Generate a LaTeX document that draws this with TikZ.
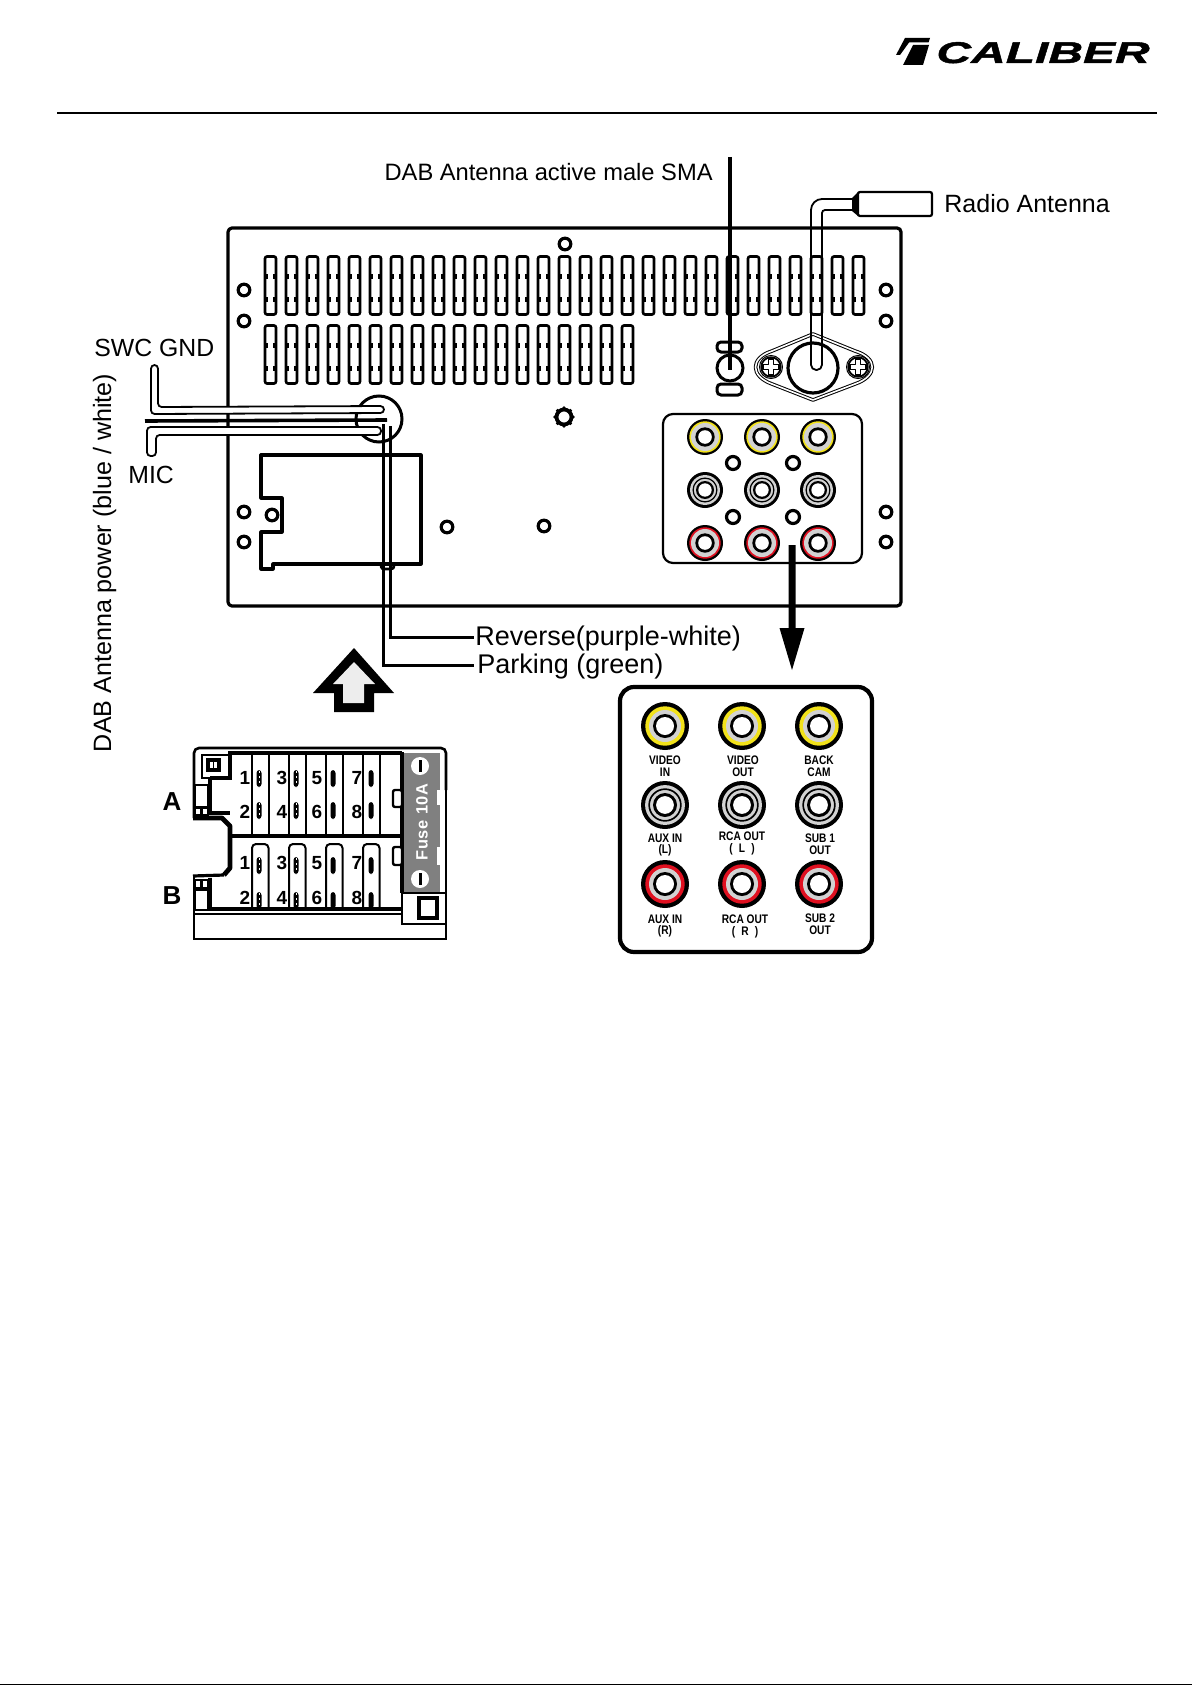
\documentclass[tikz,border=0pt]{standalone}
\usepackage{fontspec}
\setmainfont{Liberation Sans}
\newfontfamily\narrowf[FakeStretch=0.82]{Liberation Sans Bold}
\newfontfamily\logof[FakeStretch=1.6,FakeBold=1.5]{Liberation Sans Bold Italic}
\newfontfamily\fusef[LetterSpace=4]{Liberation Sans Bold}
\newcommand{\pxfont}[1]{\fontsize{#1}{#1}\selectfont}
\definecolor{jackgray}{HTML}{D2D2D2}
\definecolor{jackyellow}{HTML}{F2E21A}
\definecolor{jackred}{HTML}{E01020}
\definecolor{fusegray}{HTML}{808080}
\tikzset{
  px/.style={x=0.5pt,y=-0.5pt},
  panel/.style={draw=black,line width=1.6pt,line join=round},
  hole/.style={draw=black,line width=1.6pt,fill=white},
  vent/.style={draw=black,line width=1.3pt,rounded corners=1pt,fill=white},
  lbl/.style={inner sep=0pt,font=\pxfont{11.85}},
  lead/.style={draw=black,line width=1.5pt},
  tube/.style={draw=black,line width=0.9pt,fill=white,line join=round,rounded corners=1.8pt},
  rcacap/.style={inner sep=0pt,font=\narrowf\pxfont{6.2},align=center},
  digit/.style={inner sep=0pt,font=\bfseries\pxfont{9.5}},
  thickbox/.style={draw=black,line width=2.4pt},
}
\newcommand{\smalljack}[3]{%
  \fill[black] (#1,#2) circle (18);
  \fill[#3] (#1,#2) circle (15.7);
  \fill[jackgray] (#1,#2) circle (14);
  \fill[black] (#1,#2) circle (9.7);
  \fill[white] (#1,#2) circle (6.8);}
\newcommand{\bigjack}[3]{%
  \fill[black] (#1,#2) circle (24);
  \fill[#3] (#1,#2) circle (19.7);
  \fill[jackgray] (#1,#2) circle (16);
  \fill[black] (#1,#2) circle (12);
  \fill[white] (#1,#2) circle (9);}
\newcommand{\grayjack}[3]{%
  \fill[black] (#1,#2) circle (#3);
  \fill[jackgray] (#1,#2) circle (#3*0.83);
  \draw[black,line width=#3*0.035pt] (#1,#2) circle (#3*0.66);
  \fill[jackgray] (#1,#2) circle (#3*0.6);
  \fill[black] (#1,#2) circle (#3*0.5);
  \fill[white] (#1,#2) circle (#3*0.37);}
\newcommand{\ventslot}[2]{%
  \draw[vent] (#1,#2) rectangle ++(11,58);
  \fill[black] (#1+1,#2+17) rectangle ++(2,5);
  \fill[black] (#1+8,#2+17) rectangle ++(2,5);
  \fill[black] (#1+1,#2+40) rectangle ++(2,5);
  \fill[black] (#1+8,#2+40) rectangle ++(2,5);}
\begin{document}
\begin{tikzpicture}[px]
\useasboundingbox (0,0) rectangle (1192,1685);
\fill[white] (0,0) rectangle (1192,1685);
% bottom page edge
\fill[black] (0,1683.5) rectangle (1192,1685);
% logo
\fill[black] (896,55) -- (905,38) -- (930,38) -- (928.5,42.5) -- (909,42.5) -- (900,55) -- cycle;
\fill[black] (913,45) -- (929,45) -- (923,65) -- (903,65) -- cycle;
\node[inner sep=0pt,anchor=base west,font=\logof\pxfont{15}] (logo) at (936,63) {CALIBER};
% header rule
\draw[black,line width=1.1pt] (57,113) -- (1157,113);
% panel
\draw[panel,rounded corners=2pt] (228,228) rectangle (901,606);
% vents
\foreach \i in {0,...,28} {\ventslot{265+21*\i}{256.5}}
\foreach \i in {0,...,17} {\ventslot{265+21*\i}{325.5}}
% holes
\foreach \p in {(244,290),(244,321),(565,244),(886,290),(886,321),(244,512),(244,542),(272,515),(447,527),(544,526),(886,512),(886,542)}
  \draw[hole] \p circle (5.8);
% gear hole
\foreach \a in {0,45,...,315} \fill[black] (564,417) ++(\a:9) circle (1.8);
\draw[black,line width=1.9pt,fill=white] (564,417) circle (7.5);
% cutout
\draw[panel] (261,455) -- (421,455) -- (421,564) -- (273,564) -- (273,569) -- (261,569) -- (261,532) -- (282,532) -- (282,498) -- (261,498) -- cycle;
\draw[black,line width=1.4pt] (381,564) .. controls (381,569) and (383,569) .. (385,569) -- (391,569) .. controls (393,569) and (394,568) .. (394,564);
% cable gland
\draw[black,line width=1.5pt] (379,419) circle (23);
% leader wires
\node[lbl,anchor=base west,font=\pxfont{13.5}] (reverse) at (475,645) {Reverse(purple-white)};
\node[lbl,anchor=base west,font=\pxfont{13.5}] (parking) at (477,673) {Parking (green)};
\coordinate (glandA) at (390,426);
\coordinate (glandB) at (383,424);
\draw[lead] (glandA) -- (390,637) -- (474,637);
\draw[lead] (glandB) -- (383,665) -- (474,665);
% SWC tube
\draw[tube] (151,365) -- (151,414) -- (384,413) -- (384,406) -- (158,407) -- (158,365) -- cycle;
% MIC tube
\draw[tube] (147,456) -- (147,427) -- (381,427) -- (381,435) -- (156,435) -- (156,456) -- cycle;
% black wire
\draw[black,line width=1.8pt] (145,421) -- (387,420);
\node[lbl,anchor=base west,font=\pxfont{12.4}] (swc) at (94,356) {SWC GND};
\node[lbl,anchor=base west,font=\pxfont{12.4}] (mic) at (128,483) {MIC};
\node[lbl,anchor=base,rotate=90,font=\pxfont{12.55}] (dabpow) at (111,563) {DAB Antenna power (blue / white)};
% DAB SMA
\draw[black,line width=1.5pt,rounded corners=2pt,fill=white] (717,342) rectangle (742,352);
\draw[black,line width=1.5pt,fill=white] (730,368) circle (13);
\draw[black,line width=1.5pt,rounded corners=2pt,fill=white] (717,384) rectangle (742,395);
\coordinate (smaEnd) at (730,370);
\draw[black,line width=1.75pt] (730,157) -- (smaEnd);
\node[lbl,anchor=base east] (dabsma) at (713,181) {DAB Antenna active male SMA};
% antenna mount
\draw[black,line width=0.5pt,double=white,double distance=0.8pt,line join=round] (813,334) -- (772,351) .. controls (750,358) and (750,376) .. (772,384) -- (813,400) -- (855,384) .. controls (878,376) and (878,358) .. (855,351) -- cycle;
\draw[black,line width=1.6pt] (813,368) circle (25);
\foreach \x in {771,858} {
  \draw[black,line width=0.5pt] (\x,367) circle (11.5);
  \draw[black,line width=0.9pt,fill=white] (\x,367) circle (9.7);
  \draw[black,line width=0.7pt,fill=white,line join=round] (\x-2.5,367-8) -- (\x+2.5,367-8) -- (\x+2.5,367-2.5) -- (\x+8,367-2.5) -- (\x+8,367+2.5) -- (\x+2.5,367+2.5) -- (\x+2.5,367+8) -- (\x-2.5,367+8) -- (\x-2.5,367+2.5) -- (\x-8,367+2.5) -- (\x-8,367-2.5) -- (\x-2.5,367-2.5) -- cycle;
}
% radio antenna cable
\draw[black,line width=0.9pt,rounded corners=5.5pt] (852,199) -- (811,199) [rounded corners=2.6pt] -- (811,370) -- (822,370) [rounded corners=1.5pt] -- (822,210) -- (852,210);
\fill[black] (852,198) -- (858,192) -- (860,192) -- (860,216) -- (858,216) -- (852,211) -- cycle;
\draw[black,line width=1.1pt,fill=white,rounded corners=1pt] (858,192) rectangle (932,216);
\node[lbl,anchor=base west,font=\pxfont{12.5}] (radio) at (944,213) {Radio Antenna};
% small RCA panel
\draw[black,line width=1.1pt,rounded corners=5pt] (663,414) rectangle (862,563);
\foreach \x in {705,762,818} {
  \smalljack{\x}{437}{jackyellow}
  \grayjack{\x}{490}{18}
  \smalljack{\x}{543}{jackred}
}
\foreach \p in {(733,463),(793,463),(733,517),(793,517)} \draw[hole] \p circle (6.5);
% down arrow
\fill[black] (788.5,545) -- (795.5,545) -- (795.5,628) -- (804.5,628) -- (792,670) -- (779.5,628) -- (788.5,628) -- cycle;
% up arrow
\fill[black] (354,648) -- (394,693) -- (374,693) -- (374,712) -- (334,712) -- (334,693) -- (313,693) -- cycle;
\fill[black!7] (354,662) -- (375,684) -- (364,684) -- (364,703) -- (343,703) -- (343,684) -- (333,684) -- cycle;
% large RCA box
\draw[black,line width=2.1pt,rounded corners=7pt] (620,687) rectangle (872,952);
\foreach \x in {665,742,819} {
  \bigjack{\x}{726}{jackyellow}
  \grayjack{\x}{805}{24}
  \bigjack{\x}{884}{jackred}
}
\node[rcacap] (c1) at (665,766.5) {VIDEO\\[-0.3pt]IN};
\node[rcacap] (c2) at (743,766) {VIDEO\\[-0.3pt]OUT};
\node[rcacap] (c3) at (819,766.5) {BACK\\[-0.3pt]CAM};
\node[rcacap] (c4) at (665,845) {AUX IN\\[-0.3pt](L)};
\node[rcacap] (c5) at (742,843.5) {RCA OUT\\[-0.3pt](\,\,\,L\,\,\,)};
\node[rcacap] (c6) at (820,844.5) {SUB 1\\[-0.3pt]OUT};
\node[rcacap] (c7) at (665,926) {AUX IN\\[-0.3pt](R)};
\node[rcacap] (c8) at (745,926.5) {RCA OUT\\[-0.3pt](\,\,\,R\,\,\,)};
\node[rcacap] (c9) at (820,924) {SUB 2\\[-0.3pt]OUT};
% harness connector
\fill[fusegray] (402,753) rectangle (440,893);
\fill[white] (437,790) rectangle (441,805);
\fill[white] (437,847) rectangle (441,865);
\draw[black,line width=1.3pt,rounded corners=2.5pt] (194,818) -- (194,748) -- (446,748) -- (446,790);
\draw[black,line width=1.3pt] (446,790) -- (446,939) -- (194,939) -- (194,876);
% terminals
\foreach \x in {252,289,326,363} {
  \draw[black,line width=1pt] (\x,753) -- (\x,836) (\x+16.5,753) -- (\x+16.5,836);
  \draw[black,line width=1pt,rounded corners=2pt] (\x,909) -- (\x,844) -- (\x+16.5,844) -- (\x+16.5,909);
}
\foreach \x/\c in {259/0,296/0,333/1,371/1} {
  \foreach \y in {770,802,857} {
    \fill[black,rounded corners=1.5pt] (\x-2.5,\y) rectangle ++(5,17);
    \ifnum\c=0
      \draw[white,line width=0.45pt,dash pattern=on 1pt off 1.5pt] (\x,\y+1) -- ++(0,15);
    \fi
  }
  \fill[black,rounded corners=1.5pt] (\x-2.5,892) rectangle (\x+2.5,909);
  \ifnum\c=0
    \draw[white,line width=0.45pt,dash pattern=on 1pt off 1.5pt] (\x,893) -- ++(0,15);
  \fi
}
% thick harness outline
\draw[thickbox,line join=round] (193,818) -- (222,818) -- (230,826) -- (230,868) -- (224,875);
\draw[black,line width=1.6pt] (224,875) -- (193,876);
\draw[thickbox] (228,753) -- (402,753);
\draw[thickbox] (230,836) -- (402,836);
\draw[thickbox] (196,909) -- (402,909);
\draw[black,line width=1pt] (194,914) -- (402,914);
\draw[thickbox] (210,778) -- (210,813) -- (230,813);
\draw[thickbox] (210,778) -- (230,778) -- (230,755);
\draw[thickbox] (210,878) -- (210,909);
\draw[black,line width=1.2pt] (202,755) rectangle (230,778);
\draw[black,line width=1.6pt] (208,760) rectangle (219,770);
\draw[black,line width=0.8pt] (213.5,760) -- (213.5,770);
\draw[black,line width=0.8pt,fill=white] (195,785) rectangle (208,807);
\draw[black,line width=0.8pt,fill=white] (195,808) rectangle (201,815) (202,808) rectangle (208,815);
\draw[black,line width=0.8pt,fill=white] (195,890) rectangle (208,910);
\draw[black,line width=0.8pt,fill=white] (195,880) rectangle (201,888) (202,880) rectangle (208,888);
\draw[thickbox] (402,752) -- (402,893);
\draw[black,line width=1.2pt,fill=white,rounded corners=1pt] (393,790) rectangle (402,807);
\draw[black,line width=1.2pt,fill=white,rounded corners=1pt] (393,847) rectangle (402,865);
% fuse lower box
\draw[black,line width=1.4pt,fill=white] (402,893) -- (446,893) -- (446,924) -- (402,924) -- cycle;
\draw[black,line width=1.6pt,fill=white] (419,898) rectangle (437,918);
% fuse
\node[inner sep=0pt,rotate=90,font=\fusef\pxfont{8.2},text=white] (fuse) at (422,822) {Fuse 10A};
\foreach \y in {766,879} {
  \fill[white] (420,\y) circle (9);
  \fill[black] (418.5,\y-6) rectangle (421.5,\y+6);
}
% digits
\foreach \x/\a/\b/\c/\d in {245/1/2/1/2,282/3/4/3/4,317/5/6/5/6,357/7/8/7/8} {
  \node[digit] at (\x,778) {\a};
  \node[digit] at (\x,812) {\b};
  \node[digit] at (\x,863) {\c};
  \node[digit] at (\x,898) {\d};
}
\node[inner sep=0pt,font=\bfseries\pxfont{13}] (labA) at (172,802) {A};
\node[inner sep=0pt,font=\bfseries\pxfont{13}] (labB) at (172,896) {B};
\end{tikzpicture}
\end{document}
